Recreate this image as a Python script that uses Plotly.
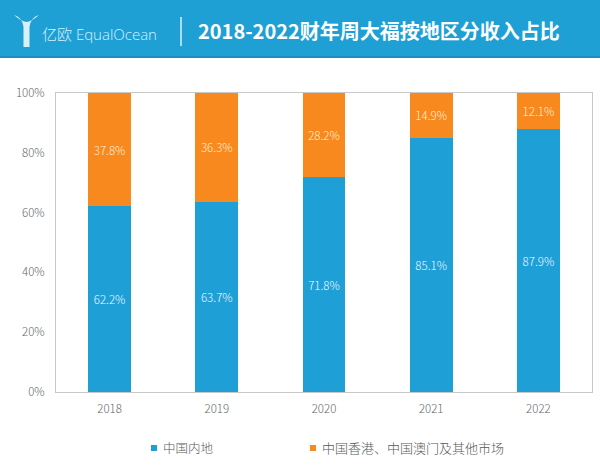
import plotly.graph_objects as go

years = ["2018", "2019", "2020", "2021", "2022"]
mainland = [62.2, 63.7, 71.8, 85.1, 87.9]
hk_macau_other = [37.8, 36.3, 28.2, 14.9, 12.1]
series_names = ["中国内地", "中国香港、中国澳门及其他市场"]
y_ticks = [0, 20, 40, 60, 80, 100]
y_tick_labels = ["0%", "20%", "40%", "60%", "80%", "100%"]

BLUE = "#1E9FD6"
ORANGE = "#F7891F"
FONT = "Noto Sans CJK SC"
TICK = "#666666"

W, H = 600, 469
L, R, T, B = 56, 8, 93, 77
PH = H - T - B
PW = W - L - R


def py(pix):
    return (H - B - pix) / PH


def px(pix):
    return (pix - L) / PW


fig = go.Figure()
fig.add_trace(go.Bar(
    x=years, y=mainland, name=series_names[0], marker_color=BLUE,
    marker_line_width=0,
    text=[f"{v}%" for v in mainland], textposition="inside",
    insidetextanchor="middle",
    textfont=dict(color="#eef8fc", size=11.5, family=FONT, weight=300),
))
fig.add_trace(go.Bar(
    x=years, y=hk_macau_other, name=series_names[1], marker_color=ORANGE,
    marker_line_width=0,
    text=[f"{v}%" for v in hk_macau_other], textposition="inside",
    insidetextanchor="middle",
    textfont=dict(color="#fff0d6", size=11.5, family=FONT, weight=300),
))

shapes = [
    # header band
    dict(type="rect", xref="paper", yref="paper", x0=px(0), x1=px(W), y0=py(57), y1=py(0),
         fillcolor="#1FA0D5", line_width=0, layer="above"),
    dict(type="rect", xref="paper", yref="paper", x0=px(0), x1=px(W), y0=py(58), y1=py(56),
         fillcolor="#1A8EC0", line_width=0, layer="above"),
    # separator
    dict(type="line", xref="paper", yref="paper", x0=px(181), x1=px(181), y0=py(46), y1=py(17),
         line=dict(color="#d8f0fa", width=1.5), layer="above"),
    # logo icon (stylized Y)
    dict(type="path", xref="paper", yref="paper",
         path=(f"M {px(14)},{py(15)} Q {px(22)},{py(17)} {px(23.5)},{py(27)} L {px(23.5)},{py(47)} "
               f"L {px(29.5)},{py(47)} L {px(29.5)},{py(27)} Q {px(31)},{py(17)} {px(39)},{py(15)} "
               f"Q {px(31)},{py(22)} {px(26.5)},{py(22)} Q {px(22)},{py(22)} {px(14)},{py(15)} Z"),
         fillcolor="#d6f1fb", line_width=0, layer="above"),
    # legend squares
    dict(type="rect", xref="paper", yref="paper", x0=px(151), x1=px(157), y0=py(451), y1=py(445),
         fillcolor=BLUE, line_width=0),
    dict(type="rect", xref="paper", yref="paper", x0=px(310), x1=px(316), y0=py(451), y1=py(445),
         fillcolor=ORANGE, line_width=0),
]

annotations = [
    dict(text="<b>2018-2022财年周大福按地区分收入占比</b>", xref="paper", yref="paper",
         x=px(196), y=py(31), xanchor="left", yanchor="middle", showarrow=False,
         font=dict(color="white", size=20, family=FONT)),
    dict(text="亿欧 EqualOcean", xref="paper", yref="paper",
         x=px(40), y=py(34), xanchor="left", yanchor="middle", showarrow=False,
         font=dict(color="#d6f1fb", size=15, family="Open Sans, Noto Sans CJK SC", weight=300)),
    dict(text=series_names[0], xref="paper", yref="paper",
         x=px(161), y=py(448), xanchor="left", yanchor="middle", showarrow=False,
         font=dict(color="#595959", size=12.5, family=FONT, weight=300)),
    dict(text=series_names[1], xref="paper", yref="paper",
         x=px(320), y=py(448), xanchor="left", yanchor="middle", showarrow=False,
         font=dict(color="#595959", size=13, family=FONT, weight=300)),
]

fig.update_layout(
    width=W, height=H,
    margin=dict(l=L, r=R, t=T, b=B, pad=0),
    barmode="stack", bargap=0.6,
    paper_bgcolor="white", plot_bgcolor="white",
    showlegend=False,
    shapes=shapes, annotations=annotations,
    font=dict(family=FONT, color=TICK, size=11),
    uniformtext=dict(minsize=11, mode="show"),
)
fig.update_xaxes(showline=True, mirror=True, linecolor="#c8c8c8", linewidth=1,
                 ticks="", showgrid=False, ticklabelstandoff=6,
                 tickfont=dict(size=11.5, color=TICK, weight=300))
fig.update_yaxes(range=[0, 100], tickvals=y_ticks, ticktext=y_tick_labels,
                 showline=True, mirror=True, linecolor="#c8c8c8", linewidth=1,
                 showgrid=False, zeroline=False, ticks="", ticklabelstandoff=8,
                 tickfont=dict(size=11.5, color=TICK, weight=300))

fig.write_html(
    "out.html",
    config={"displayModeBar": False},
    post_script="document.body.style.margin='0';document.body.style.overflow='hidden';",
)
